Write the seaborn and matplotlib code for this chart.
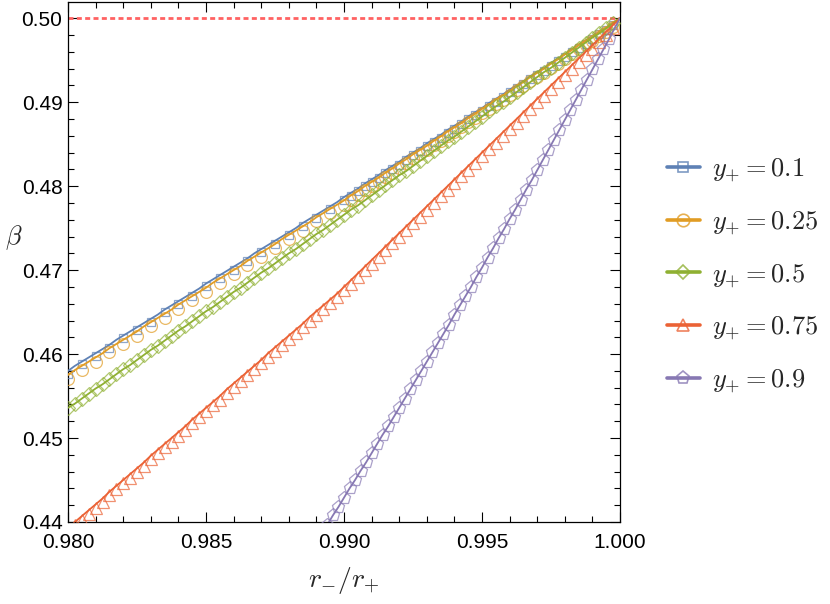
import numpy as np
import pandas as pd
import matplotlib
matplotlib.use("Agg")
import matplotlib.pyplot as plt
import seaborn as sns
from matplotlib.lines import Line2D
from matplotlib.transforms import ScaledTranslation
from matplotlib.colors import to_rgba
from matplotlib.ticker import MultipleLocator, FormatStrFormatter

# ---------------- data ----------------
X_START, X_END, N_MAIN = 0.980, 1.000, 81          # common sampling grid
PURPLE_X_START, PURPLE_N = 0.9894, 54             # y+ = 0.9 grid
BETA_LIMIT = 0.5                                  # dashed reference level

labels = [r"$y_{+} = 0.1$", r"$y_{+} = 0.25$", r"$y_{+} = 0.5$",
          r"$y_{+} = 0.75$", r"$y_{+} = 0.9$"]

beta_01 = [0.4580, 0.4586, 0.4591, 0.4596, 0.4601, 0.4606, 0.4611, 0.4617, 0.4622, 0.4627,
           0.4632, 0.4637, 0.4642, 0.4647, 0.4653, 0.4658, 0.4663, 0.4668, 0.4673, 0.4678,
           0.4684, 0.4689, 0.4694, 0.4699, 0.4704, 0.4709, 0.4714, 0.4720, 0.4725, 0.4730,
           0.4735, 0.4740, 0.4745, 0.4750, 0.4756, 0.4761, 0.4766, 0.4771, 0.4776, 0.4781,
           0.4787, 0.4792, 0.4797, 0.4803, 0.4808, 0.4813, 0.4819, 0.4824, 0.4829, 0.4835,
           0.4840, 0.4845, 0.4851, 0.4856, 0.4861, 0.4867, 0.4872, 0.4877, 0.4883, 0.4888,
           0.4893, 0.4899, 0.4904, 0.4909, 0.4915, 0.4920, 0.4925, 0.4931, 0.4936, 0.4941,
           0.4947, 0.4952, 0.4957, 0.4963, 0.4968, 0.4973, 0.4979, 0.4984, 0.4989, 0.4995,
           0.5000]

beta_025 = [0.4575, 0.4581, 0.4586, 0.4591, 0.4596, 0.4601, 0.4607, 0.4612, 0.4617, 0.4622,
            0.4627, 0.4633, 0.4638, 0.4643, 0.4648, 0.4653, 0.4659, 0.4664, 0.4669, 0.4674,
            0.4679, 0.4685, 0.4690, 0.4695, 0.4700, 0.4705, 0.4711, 0.4716, 0.4721, 0.4726,
            0.4731, 0.4737, 0.4742, 0.4747, 0.4752, 0.4757, 0.4763, 0.4768, 0.4773, 0.4778,
            0.4783, 0.4789, 0.4794, 0.4800, 0.4805, 0.4810, 0.4816, 0.4821, 0.4827, 0.4832,
            0.4838, 0.4843, 0.4848, 0.4854, 0.4859, 0.4865, 0.4870, 0.4875, 0.4881, 0.4886,
            0.4892, 0.4897, 0.4903, 0.4908, 0.4913, 0.4919, 0.4924, 0.4930, 0.4935, 0.4940,
            0.4946, 0.4951, 0.4957, 0.4962, 0.4968, 0.4973, 0.4978, 0.4984, 0.4989, 0.4995,
            0.5000]

beta_05 = [0.4536, 0.4541, 0.4547, 0.4553, 0.4559, 0.4564, 0.4570, 0.4576, 0.4582, 0.4587,
           0.4593, 0.4599, 0.4605, 0.4610, 0.4616, 0.4622, 0.4628, 0.4633, 0.4639, 0.4645,
           0.4651, 0.4656, 0.4662, 0.4668, 0.4674, 0.4679, 0.4685, 0.4691, 0.4697, 0.4702,
           0.4708, 0.4714, 0.4720, 0.4725, 0.4731, 0.4737, 0.4743, 0.4748, 0.4754, 0.4760,
           0.4766, 0.4772, 0.4777, 0.4783, 0.4789, 0.4795, 0.4801, 0.4807, 0.4813, 0.4818,
           0.4824, 0.4830, 0.4836, 0.4842, 0.4848, 0.4854, 0.4859, 0.4865, 0.4871, 0.4877,
           0.4883, 0.4889, 0.4895, 0.4900, 0.4906, 0.4912, 0.4918, 0.4924, 0.4930, 0.4936,
           0.4941, 0.4947, 0.4953, 0.4959, 0.4965, 0.4971, 0.4977, 0.4982, 0.4988, 0.4994,
           0.5000]

beta_075 = [0.4393, 0.4400, 0.4407, 0.4414, 0.4421, 0.4428, 0.4436, 0.4443, 0.4450, 0.4457,
            0.4464, 0.4471, 0.4479, 0.4486, 0.4493, 0.4500, 0.4507, 0.4514, 0.4522, 0.4529,
            0.4536, 0.4543, 0.4550, 0.4558, 0.4565, 0.4572, 0.4579, 0.4586, 0.4593, 0.4601,
            0.4608, 0.4615, 0.4622, 0.4629, 0.4636, 0.4644, 0.4651, 0.4658, 0.4665, 0.4672,
            0.4680, 0.4688, 0.4696, 0.4704, 0.4712, 0.4720, 0.4728, 0.4736, 0.4744, 0.4752,
            0.4760, 0.4768, 0.4776, 0.4784, 0.4792, 0.4800, 0.4808, 0.4816, 0.4824, 0.4832,
            0.4840, 0.4848, 0.4856, 0.4864, 0.4872, 0.4880, 0.4888, 0.4896, 0.4904, 0.4912,
            0.4920, 0.4928, 0.4936, 0.4944, 0.4952, 0.4960, 0.4968, 0.4976, 0.4984, 0.4992,
            0.5000]

beta_09 = [0.4397, 0.4408, 0.4418, 0.4429, 0.4440, 0.4450, 0.4461, 0.4471, 0.4482, 0.4493,
           0.4504, 0.4514, 0.4525, 0.4536, 0.4547, 0.4558, 0.4569, 0.4580, 0.4591, 0.4602,
           0.4613, 0.4624, 0.4635, 0.4647, 0.4658, 0.4669, 0.4680, 0.4692, 0.4703, 0.4715,
           0.4726, 0.4738, 0.4749, 0.4761, 0.4772, 0.4784, 0.4796, 0.4807, 0.4819, 0.4831,
           0.4843, 0.4855, 0.4867, 0.4879, 0.4891, 0.4903, 0.4915, 0.4927, 0.4939, 0.4951,
           0.4963, 0.4975, 0.4988, 0.5000]

x_main = np.linspace(X_START, X_END, N_MAIN)
x_purple = np.linspace(PURPLE_X_START, X_END, PURPLE_N)

# ---------------- style ----------------
sns.set_style("ticks")
plt.rcParams["font.family"] = ["Liberation Sans", "DejaVu Sans"]
plt.rcParams["mathtext.fontset"] = "cm"

colors = ["#5E81B5", "#E19C24", "#8FB032", "#EB6235", "#8778B3"]
markers = ["s", "o", "D", "^", "p"]
msizes = [5.5, 8.5, 7.0, 9.0, 9.5]
marker_drop = [2.0, 3.0, 0.0, 2.5, 0.0]   # Mathematica-like marker offset (points)

sparse_then_dense = list(range(0, 41, 2)) + list(range(41, N_MAIN - 1))
markevery = [sparse_then_dense, sparse_then_dense,
             list(range(0, N_MAIN - 1)), list(range(0, N_MAIN - 1)),
             list(range(0, PURPLE_N - 2))]

series = [(x_main, beta_01), (x_main, beta_025), (x_main, beta_05),
          (x_main, beta_075), (x_purple, beta_09)]

fig = plt.figure(figsize=(8.3, 6.04), dpi=100)
ax = fig.add_axes([68 / 830, 82 / 604, 552 / 830, 520 / 604])

ax.axhline(BETA_LIMIT, color="#FF6262", lw=2.0, ls=(0, (1.8, 1.2)), zorder=1)

for i, ((xs, ys), lab) in enumerate(zip(series, labels)):
    df = pd.DataFrame({"x": xs, "beta": ys})
    sns.lineplot(data=df, x="x", y="beta", ax=ax, color=colors[i], lw=1.3,
                 errorbar=None, zorder=3 + i)
    sns.lineplot(data=df, x="x", y="beta", ax=ax, color=colors[i], lw=0,
                 marker=markers[i], ms=msizes[i], mfc="none",
                 mec=to_rgba(colors[i], 0.7), mew=0.9,
                 markevery=markevery[i], errorbar=None, zorder=3 + i)
    mk_line = ax.lines[-1]
    if marker_drop[i]:
        mk_line.set_transform(ax.transData +
                              ScaledTranslation(0, -marker_drop[i] / 72, fig.dpi_scale_trans))

ax.set_xlim(X_START, X_END)
ax.set_ylim(0.44, 0.50194)

ax.xaxis.set_major_locator(MultipleLocator(0.005))
ax.xaxis.set_minor_locator(MultipleLocator(0.001))
ax.yaxis.set_major_locator(MultipleLocator(0.01))
ax.yaxis.set_minor_locator(MultipleLocator(0.002))
ax.xaxis.set_major_formatter(FormatStrFormatter("%.3f"))
ax.yaxis.set_major_formatter(FormatStrFormatter("%.2f"))
ax.tick_params(which="both", direction="in", top=True, right=True,
               labelsize=15, colors="black", width=0.8)
ax.tick_params(axis="x", which="major", pad=8)
ax.tick_params(axis="y", which="major", pad=4)
ax.tick_params(which="major", length=7)
ax.tick_params(which="minor", length=4)
for s in ax.spines.values():
    s.set_linewidth(0.9)
    s.set_color("black")

ax.set_xlabel(r"$r_{-}/r_{+}$", fontsize=20)
ax.xaxis.set_label_coords(0.5, -0.083)
ax.set_ylabel(r"$\beta$", fontsize=19, rotation=0)
ax.yaxis.set_label_coords(-0.098, 0.52)

handles = [Line2D([], [], color=colors[i], lw=2.6, marker=markers[i],
                  ms=[7, 9, 7.5, 9, 9.5][i], mfc="none",
                  mec=to_rgba(colors[i], 0.8), mew=1.2)
           for i in range(5)]
fig.legend(handles, labels, loc="center left",
           bbox_to_anchor=(656 / 830, 1 - 276 / 604), frameon=False,
           fontsize=19, handlelength=1.25, handletextpad=0.48,
           labelspacing=0.98, borderaxespad=0)

fig.savefig("out.png", dpi=100)
